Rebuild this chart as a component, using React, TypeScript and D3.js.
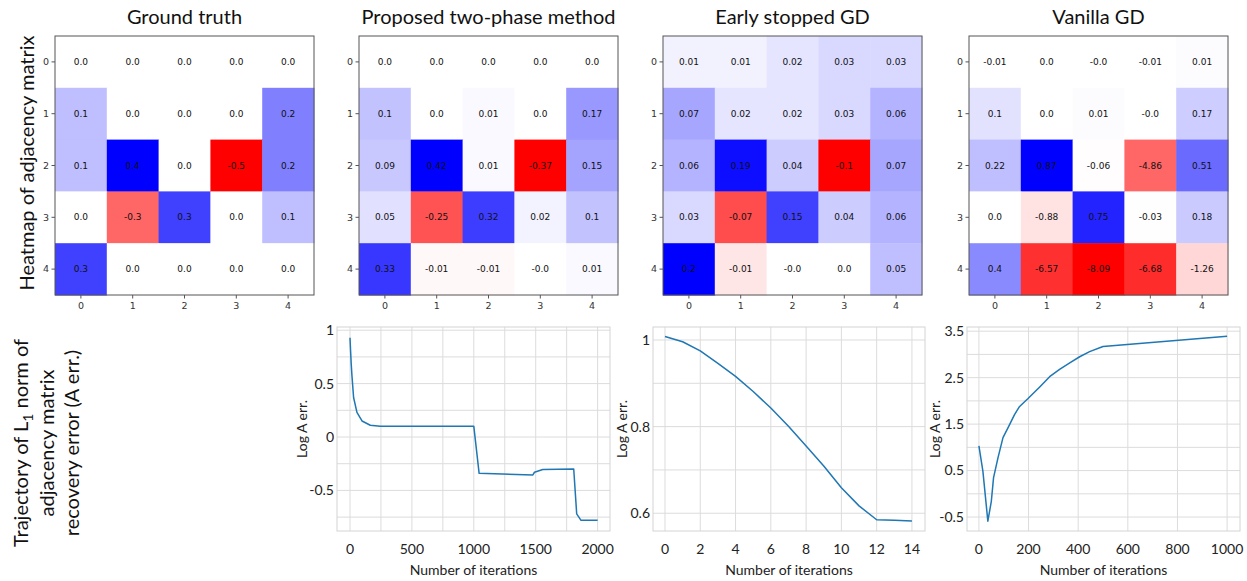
import React from 'react';
import * as d3 from 'd3';

// heatmap values, as printed in each cell (row-major, rows 0..4)
const idx = ['0', '1', '2', '3', '4'];

const groundTruth = [
  ['0.0', '0.0', '0.0', '0.0', '0.0'],
  ['0.1', '0.0', '0.0', '0.0', '0.2'],
  ['0.1', '0.4', '0.0', '-0.5', '0.2'],
  ['0.0', '-0.3', '0.3', '0.0', '0.1'],
  ['0.3', '0.0', '0.0', '0.0', '0.0'],
];
const twoPhase = [
  ['0.0', '0.0', '0.0', '0.0', '0.0'],
  ['0.1', '0.0', '0.01', '0.0', '0.17'],
  ['0.09', '0.42', '0.01', '-0.37', '0.15'],
  ['0.05', '-0.25', '0.32', '0.02', '0.1'],
  ['0.33', '-0.01', '-0.01', '-0.0', '0.01'],
];
const earlyStopped = [
  ['0.01', '0.01', '0.02', '0.03', '0.03'],
  ['0.07', '0.02', '0.02', '0.03', '0.06'],
  ['0.06', '0.19', '0.04', '-0.1', '0.07'],
  ['0.03', '-0.07', '0.15', '0.04', '0.06'],
  ['0.2', '-0.01', '-0.0', '0.0', '0.05'],
];
const vanilla = [
  ['-0.01', '0.0', '-0.0', '-0.01', '0.01'],
  ['0.1', '0.0', '0.01', '-0.0', '0.17'],
  ['0.22', '0.87', '-0.06', '-4.86', '0.51'],
  ['0.0', '-0.88', '0.75', '-0.03', '0.18'],
  ['0.4', '-6.57', '-8.09', '-6.68', '-1.26'],
];

// trajectories of log A err.
const twoPhaseIter = [0, 5, 10, 16, 29, 56, 97, 164, 244, 1000, 1043, 1477, 1490, 1557, 1807, 1831, 1866, 2000];
const twoPhaseErr = [0.93, 0.8, 0.68, 0.57, 0.37, 0.23, 0.15, 0.11, 0.1, 0.1, -0.34, -0.355, -0.33, -0.305, -0.3, -0.72, -0.78, -0.78];

const earlyIter = [0, 1, 2, 3, 4, 5, 6, 7, 8, 9, 10, 11, 12, 13, 14];
const earlyErr = [1.008, 0.996, 0.975, 0.946, 0.916, 0.881, 0.843, 0.801, 0.755, 0.709, 0.659, 0.617, 0.585, 0.584, 0.582];

const vanillaIter = [0, 16, 36, 50, 59, 77, 97, 117, 144, 164, 198, 245, 285, 325, 366, 406, 446, 500, 1000];
const vanillaErr = [1.03, 0.49, -0.59, -0.16, 0.35, 0.78, 1.21, 1.42, 1.71, 1.88, 2.05, 2.3, 2.52, 2.68, 2.82, 2.95, 3.06, 3.17, 3.39];

// tick labels
const twoPhaseXTicks = [0, 500, 1000, 1500, 2000];
const twoPhaseYTicks = ['-0.5', '0', '0.5', '1'];
const earlyXTicks = [0, 2, 4, 6, 8, 10, 12, 14];
const earlyYTicks = ['0.6', '0.8', '1'];
const vanillaXTicks = [0, 200, 400, 600, 800, 1000];
const vanillaYTicks = ['-0.5', '0.5', '1.5', '2.5', '3.5'];

const titleFont = 'Lato, "Open Sans", sans-serif';
const mplFont = '"DejaVu Sans", sans-serif';

const Heatmap = ({ title, cells, left }) => {
  const top = 36;
  const size = 259;
  const x = d3.scaleBand().domain(idx).range([left, left + size]);
  const y = d3.scaleBand().domain(idx).range([top, top + size]);
  const vals = cells.flat().map(Number);
  const color = d3
    .scaleDiverging(d3.piecewise(d3.interpolateRgb, ['#ff0000', '#ffffff', '#0000ff']))
    .domain([d3.min(vals), 0, d3.max(vals)]);
  const bw = x.bandwidth();

  return (
    <g>
      <text x={left + size / 2} y={24} textAnchor="middle" fontSize={20} fontFamily={titleFont} fill="#111">
        {title}
      </text>
      {cells.map((row, r) =>
        row.map((v, c) => (
          <g key={r + '-' + c}>
            <rect x={x(idx[c])} y={y(idx[r])} width={bw + 0.5} height={bw + 0.5} fill={color(Number(v))} />
            <text
              x={x(idx[c]) + bw / 2}
              y={y(idx[r]) + bw / 2}
              dy="0.35em"
              textAnchor="middle"
              fontSize={9}
              fontFamily={mplFont}
              fill="#111"
            >
              {v}
            </text>
          </g>
        ))
      )}
      <rect x={left} y={top} width={size} height={size} fill="none" stroke="#555" strokeWidth={1} />
      {idx.map(d => (
        <g key={'t' + d}>
          <line x1={left - 3.5} x2={left} y1={y(d) + bw / 2} y2={y(d) + bw / 2} stroke="#555" />
          <text x={left - 6} y={y(d) + bw / 2} dy="0.35em" textAnchor="end" fontSize={9.5} fontFamily={mplFont} fill="#333">
            {d}
          </text>
          <line x1={x(d) + bw / 2} x2={x(d) + bw / 2} y1={top + size} y2={top + size + 3.5} stroke="#555" />
          <text x={x(d) + bw / 2} y={top + size + 14} textAnchor="middle" fontSize={9.5} fontFamily={mplFont} fill="#333">
            {d}
          </text>
        </g>
      ))}
    </g>
  );
};

const Trajectory = ({ iters, errs, left, right, xDomain, yDomain, xGrid, yGrid, xTicks, yTicks, labelX }) => {
  const top = 327;
  const bottom = 531;
  const x = d3.scaleLinear().domain(xDomain).range([left, right]);
  const y = d3.scaleLinear().domain(yDomain).range([bottom, top]);
  const path = d3
    .line()
    .x(d => x(d[0]))
    .y(d => y(d[1]))(iters.map((t, i) => [t, errs[i]]));

  return (
    <g fontFamily={titleFont}>
      {xGrid.map(t => (
        <line key={'gx' + t} x1={x(t)} x2={x(t)} y1={top} y2={bottom} stroke="#dcdcdc" strokeWidth={1} />
      ))}
      {yGrid.map(t => (
        <line key={'gy' + t} x1={left} x2={right} y1={y(t)} y2={y(t)} stroke="#dcdcdc" strokeWidth={1} />
      ))}
      <rect x={left} y={top} width={right - left} height={bottom - top} fill="none" stroke="#d4d4d4" strokeWidth={1} />
      <path d={path} fill="none" stroke="#1f77b4" strokeWidth={1.5} strokeLinejoin="round" />
      {xTicks.map(t => (
        <text key={'xt' + t} x={x(t)} y={554} textAnchor="middle" fontSize={14} fill="#222">
          {t}
        </text>
      ))}
      {yTicks.map(t => (
        <text key={'yt' + t} x={left - 3} y={y(Number(t))} dy="0.35em" textAnchor="end" fontSize={14} fill="#222">
          {t}
        </text>
      ))}
      <text x={(left + right) / 2} y={575} textAnchor="middle" fontSize={14} fill="#222">
        Number of iterations
      </text>
      <text
        transform={`translate(${labelX},${(top + bottom) / 2}) rotate(-90)`}
        textAnchor="middle"
        dy="0.35em"
        fontSize={14}
        fill="#222"
      >
        Log A err.
      </text>
    </g>
  );
};

const range = (a, b, s) => d3.range(a, b + s / 2, s);

export default function App() {
  return (
    <svg width={1247} height={581} style={{ position: 'absolute', left: 0, top: 0, background: '#fff' }}>
      <text
        transform="translate(27,163) rotate(-90)"
        textAnchor="middle"
        dy="0.35em"
        fontSize={20}
        fontFamily={titleFont}
        fill="#111"
      >
        Heatmap of adjacency matrix
      </text>
      <text transform="translate(21,443) rotate(-90)" textAnchor="middle" fontSize={20} fontFamily={titleFont} fill="#111">
        <tspan x={0} dy="0.35em">
          Trajectory of L<tspan fontSize={14} dy={5}>1</tspan>
          <tspan dy={-5}> norm of</tspan>
        </tspan>
        <tspan x={0} dy={25.5}>adjacency matrix</tspan>
        <tspan x={0} dy={25.5}>recovery error (A err.)</tspan>
      </text>

      <Heatmap title="Ground truth" cells={groundTruth} left={55} />
      <Heatmap title="Proposed two-phase method" cells={twoPhase} left={359} />
      <Heatmap title="Early stopped GD" cells={earlyStopped} left={663} />
      <Heatmap title="Vanilla GD" cells={vanilla} left={969} />

      <Trajectory
        iters={twoPhaseIter}
        errs={twoPhaseErr}
        left={337}
        right={610}
        xDomain={[-105, 2100]}
        yDomain={[-0.88, 1.03]}
        xGrid={range(0, 2000, 250)}
        yGrid={range(-0.75, 1, 0.25)}
        xTicks={twoPhaseXTicks}
        yTicks={twoPhaseYTicks}
        labelX={302}
      />
      <Trajectory
        iters={earlyIter}
        errs={earlyErr}
        left={653}
        right={925}
        xDomain={[-0.68, 14.74]}
        yDomain={[0.559, 1.03]}
        xGrid={range(0, 14, 2)}
        yGrid={range(0.6, 1, 0.1)}
        xTicks={earlyXTicks}
        yTicks={earlyYTicks}
        labelX={622}
      />
      <Trajectory
        iters={vanillaIter}
        errs={vanillaErr}
        left={967}
        right={1240}
        xDomain={[-48, 1052]}
        yDomain={[-0.8, 3.59]}
        xGrid={range(0, 1000, 200)}
        yGrid={range(-0.5, 3.5, 0.5)}
        xTicks={vanillaXTicks}
        yTicks={vanillaYTicks}
        labelX={935}
      />
    </svg>
  );
}
